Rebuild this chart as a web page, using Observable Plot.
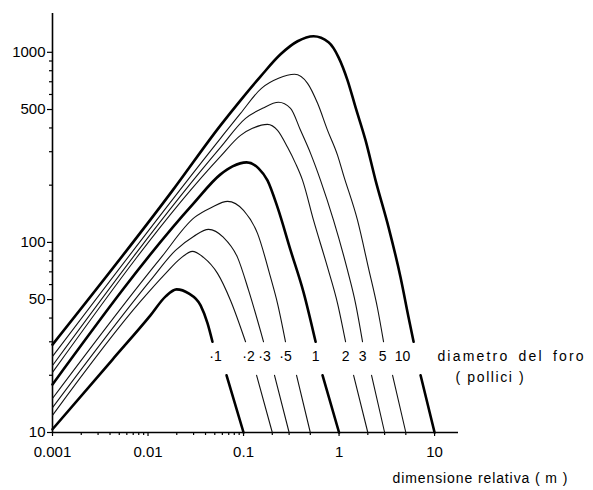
<!DOCTYPE html>
<html><head><meta charset="utf-8">
<script src="https://cdn.jsdelivr.net/npm/d3@7"></script>
<script src="https://cdn.jsdelivr.net/npm/@observablehq/plot@0.6"></script>
<style>
body{margin:0;background:#fff}
svg{font-family:"Liberation Sans",Arial,sans-serif}
</style>
</head><body><div id="chart"></div>
<script>
// hole diameters (inches) and their labels
const diameters = [0.1, 0.2, 0.3, 0.5, 1, 2, 3, 5, 10];
const curveLabels = ["·1", "·2", "·3", "·5", "1", "2", "3", "5", "10"];
const labelX = [0.0509, 0.1128, 0.166, 0.2754, 0.5675, 1.17, 1.762, 2.854, 4.623];
const labelY = 25;

// curves (null = gap where the labels sit)
const x_01 = [0.001, 0.00425, 0.0106, 0.0153, 0.0199, 0.0266, 0.0355, 0.042, 0.0473, null, 0.0664, 0.1];
const y_01 = [10.4, 24.2, 41.3, 52.0, 56.6, 53.9, 46.6, 37.5, 30, null, 20, 10];
const x_02 = [0.001, 0.00834, 0.0153, 0.0219, 0.0292, 0.0381, 0.0534, 0.0731, 0.105, null, 0.137, 0.2];
const y_02 = [12.3, 48.9, 68.7, 82.4, 89.7, 83.4, 68.7, 49.5, 30, null, 20, 10];
const x_03 = [0.001, 0.0106, 0.0194, 0.030, 0.043, 0.0617, 0.0865, 0.113, 0.162, null, 0.211, 0.3];
const y_03 = [13.5, 63.1, 90.8, 107.5, 117.1, 106.2, 83.4, 55.9, 30, null, 20, 10];
const x_05 = [0.001, 0.0135, 0.0307, 0.0462, 0.068, 0.1, 0.14, 0.192, 0.227, 0.275, null, 0.359, 0.5];
const y_05 = [15.1, 82.4, 135.4, 152.8, 164.4, 147.4, 111.5, 65.4, 47.7, 30, null, 20, 10];
const x_1 = [0.001, 0.030, 0.0574, 0.0767, 0.1075, 0.1436, 0.178, 0.227, 0.311, 0.425, 0.568, null, 0.672, 1];
const y_1 = [17.9, 160.5, 228, 251.2, 263.7, 245.2, 212, 152.8, 90.8, 54.6, 30, null, 20, 10];
const x_2 = [0.001, 0.0574, 0.093, 0.124, 0.178, 0.227, 0.289, 0.350, 0.415, 0.541, 0.758, 0.965, 1.17, null, 1.42, 2];
const y_2 = [20.7, 283.6, 365.8, 398.1, 417.8, 388.6, 316.2, 260.5, 212, 130.5, 73.9, 47.7, 30, null, 20, 10];
const x_3 = [0.001, 0.0574, 0.105, 0.158, 0.2325, 0.3105, 0.395, 0.503, 0.640, 0.876, 1.227, 1.489, 1.762, null, 2.189, 3];
const y_3 = [22.5, 316.2, 449.4, 507.3, 545.6, 507.3, 388.6, 294, 212, 130.5, 71.2, 47.7, 30, null, 20, 10];
const x_5 = [0.001, 0.0574, 0.093, 0.154, 0.2325, 0.342, 0.468, 0.596, 0.758, 0.965, 1.115, 1.562, 2.036, 2.53, 2.924, null, 3.633, 5];
const y_5 = [25.1, 352.7, 477.5, 646.4, 730, 766, 686.8, 539, 388.6, 287, 225.3, 130.5, 73, 44.9, 30, null, 20, 10];
const x_10 = [0.001, 0.0181, 0.0574, 0.093, 0.151, 0.244, 0.368, 0.541, 0.776, 0.988, 1.227, 1.489, 1.895, 2.411, 3.299, 4.406, 5.343, 6.028, null, 7.135, 10];
const y_10 = [29, 187.8, 412.9, 559, 747.5, 976, 1143, 1214, 1129, 941, 712, 513, 344, 212, 120, 65.4, 40.3, 30, null, 20, 10];

// axes
const xMajor = [0.001, 0.01, 0.1, 1, 10];
const xMajorLabels = ["0.001", "0.01", "0.1", "1", "10"];
const xMinor = [0.002,0.003,0.004,0.005,0.006,0.007,0.008,0.009,0.02,0.03,0.04,0.05,0.06,0.07,0.08,0.09,0.2,0.3,0.5,2,3,5];
const yMajor = [10, 50, 100, 500, 1000];
const yMinor = [20,30,40,60,70,80,90,200,300,400,600,700,800,900];
const thick = [0.1, 1, 10];
const xTitle = "dimensione relativa ( m )";
const legendTitle = "diametro del foro";
const legendUnit = "( pollici )";

const xsAll = [x_01, x_02, x_03, x_05, x_1, x_2, x_3, x_5, x_10];
const ysAll = [y_01, y_02, y_03, y_05, y_1, y_2, y_3, y_5, y_10];
const rows = [];
diameters.forEach((d, i) => {
  xsAll[i].forEach((x, j) => rows.push({d, x, y: ysAll[i][j]}));
});
const labelRows = diameters.map((d, i) => ({d, x: labelX[i], y: labelY, t: curveLabels[i]}));

const chart = Plot.plot({
  width: 593, height: 490,
  marginLeft: 52, marginRight: 135, marginTop: 13, marginBottom: 58,
  style: {background: "#fff", color: "#000", fontFamily: "Liberation Sans, Arial, sans-serif"},
  x: {type: "log", domain: [0.001, 17.8], axis: null},
  y: {type: "log", domain: [10, 1600], axis: null},
  marks: [
    Plot.axisY({ticks: yMinor, tickFormat: () => "", tickSize: 3, strokeWidth: 1.2, label: null}),
    Plot.axisY({ticks: yMajor, tickFormat: d => String(d), tickSize: 5, tickPadding: 2, fontSize: 15, strokeWidth: 1.2, label: null}),
    Plot.axisX({ticks: xMinor, tickFormat: () => "", tickSize: 3, strokeWidth: 1.2, label: null}),
    Plot.axisX({ticks: xMajor, tickFormat: d => xMajorLabels[xMajor.indexOf(d)], tickSize: 4, tickPadding: 10, fontSize: 15, strokeWidth: 1.2, label: null}),
    Plot.ruleX([0.001], {stroke: "#000", strokeWidth: 1.6}),
    Plot.ruleY([10], {stroke: "#000", strokeWidth: 1.6}),
    Plot.line(rows.filter(r => !thick.includes(r.d)), {x: "x", y: "y", z: "d", curve: "monotone-x", stroke: "#111", strokeWidth: 1.1}),
    Plot.line(rows.filter(r => thick.includes(r.d)), {x: "x", y: "y", z: "d", curve: "monotone-x", stroke: "#000", strokeWidth: 2.6}),
    Plot.text(labelRows, {x: "x", y: "y", text: "t", fontSize: 14, fill: "#000"}),
    Plot.text([legendTitle], {x: [10.7], y: [labelY], text: d => d, textAnchor: "start", fontSize: 14, fill: "#000"}),
    Plot.text([legendUnit], {x: [16.6], y: [19.4], text: d => d, textAnchor: "start", fontSize: 14, fill: "#000"}),
    Plot.text([xTitle], {frameAnchor: "bottom-left", dx: 340, dy: 50, text: d => d, textAnchor: "start", fontSize: 14, fill: "#000"})
  ]
});
d3.select(chart).selectAll("text").each(function() {
  const t = this.textContent;
  if (t === legendTitle) {
    this.setAttribute("letter-spacing", "2.2");
    this.setAttribute("word-spacing", "3");
  } else if (t === legendUnit) {
    this.setAttribute("letter-spacing", "1.6");
  } else if (t === xTitle) {
    this.setAttribute("letter-spacing", "0.9");
  }
});
document.getElementById("chart").appendChild(chart);
</script>
</body></html>
